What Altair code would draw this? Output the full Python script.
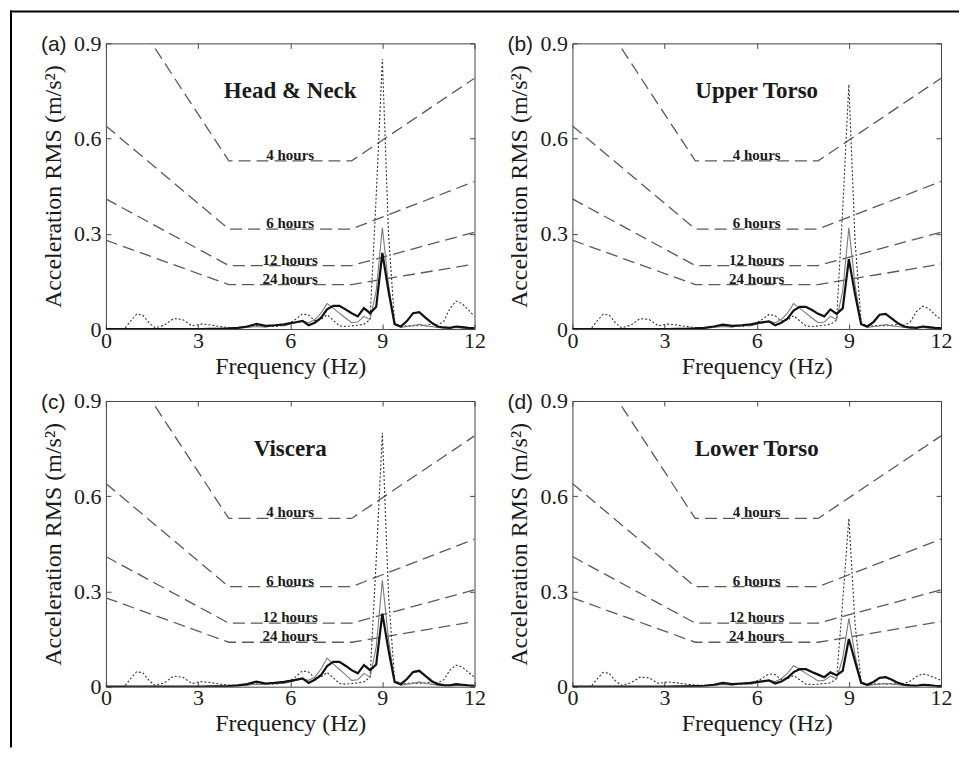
import altair as alt
import pandas as pd

# ---------------- data ----------------
FREQ = [0.0, 0.6, 0.8, 1.0, 1.2, 1.4, 1.6, 1.9, 2.2, 2.5,
        2.8, 3.1, 3.4, 3.7, 4.0, 4.3, 4.6, 4.9, 5.2, 5.5,
        5.8, 6.1, 6.4, 6.6, 6.8, 7.0, 7.2, 7.4, 7.6, 7.8,
        8.0, 8.2, 8.4, 8.6, 8.8, 9.0, 9.2, 9.4, 9.6, 9.8,
        10.0, 10.2, 10.4, 10.6, 10.8, 11.0, 11.2, 11.4, 11.6, 11.8, 12.0]

PANEL_LABELS = ["(a)", "(b)", "(c)", "(d)"]
REGIONS = ["Head & Neck", "Upper Torso", "Viscera", "Lower Torso"]

# (a) Head & Neck
A_DOTTED = [0.000, 0.000, 0.025, 0.047, 0.044, 0.020, 0.004, 0.012, 0.033, 0.030,
            0.010, 0.016, 0.013, 0.008, 0.005, 0.004, 0.007, 0.012, 0.010, 0.008,
            0.012, 0.025, 0.048, 0.044, 0.026, 0.030, 0.045, 0.028, 0.010, 0.008,
            0.010, 0.012, 0.015, 0.030, 0.420, 0.850, 0.300, 0.020, 0.008, 0.010,
            0.012, 0.010, 0.012, 0.015, 0.012, 0.025, 0.065, 0.088, 0.080, 0.060, 0.040]
A_THIN = [0.000, 0.000, 0.000, 0.000, 0.000, 0.000, 0.000, 0.000, 0.000, 0.000,
          0.000, 0.000, 0.000, 0.001, 0.002, 0.003, 0.005, 0.008, 0.006, 0.012,
          0.010, 0.018, 0.025, 0.020, 0.030, 0.050, 0.080, 0.066, 0.050, 0.035,
          0.020, 0.022, 0.040, 0.030, 0.120, 0.320, 0.140, 0.015, 0.005, 0.008,
          0.010, 0.015, 0.010, 0.008, 0.005, 0.003, 0.004, 0.005, 0.003, 0.003, 0.002]
A_THICK = [0.000, 0.000, 0.000, 0.000, 0.000, 0.000, 0.000, 0.000, 0.000, 0.000,
           0.000, 0.000, 0.001, 0.001, 0.002, 0.004, 0.008, 0.016, 0.010, 0.012,
           0.015, 0.020, 0.026, 0.012, 0.020, 0.035, 0.062, 0.073, 0.073, 0.062,
           0.050, 0.040, 0.066, 0.050, 0.070, 0.240, 0.120, 0.015, 0.008, 0.025,
           0.050, 0.053, 0.036, 0.020, 0.008, 0.005, 0.004, 0.008, 0.006, 0.004, 0.003]

# (b) Upper Torso
B_DOTTED = [0.000, 0.000, 0.025, 0.047, 0.044, 0.020, 0.004, 0.012, 0.033, 0.030,
            0.010, 0.016, 0.013, 0.008, 0.005, 0.004, 0.007, 0.012, 0.010, 0.008,
            0.012, 0.025, 0.046, 0.042, 0.025, 0.028, 0.042, 0.026, 0.010, 0.008,
            0.010, 0.012, 0.015, 0.028, 0.380, 0.770, 0.280, 0.020, 0.008, 0.010,
            0.012, 0.010, 0.012, 0.015, 0.012, 0.022, 0.055, 0.072, 0.065, 0.045, 0.030]
B_THIN = [0.000, 0.000, 0.000, 0.000, 0.000, 0.000, 0.000, 0.000, 0.000, 0.000,
          0.000, 0.000, 0.000, 0.001, 0.002, 0.003, 0.005, 0.008, 0.006, 0.012,
          0.010, 0.018, 0.024, 0.020, 0.030, 0.050, 0.080, 0.066, 0.050, 0.035,
          0.020, 0.022, 0.040, 0.030, 0.120, 0.320, 0.140, 0.015, 0.005, 0.008,
          0.010, 0.014, 0.010, 0.008, 0.005, 0.003, 0.004, 0.005, 0.003, 0.003, 0.002]
B_THICK = [0.000, 0.000, 0.000, 0.000, 0.000, 0.000, 0.000, 0.000, 0.000, 0.000,
           0.000, 0.000, 0.001, 0.001, 0.002, 0.004, 0.008, 0.014, 0.010, 0.012,
           0.015, 0.020, 0.024, 0.012, 0.020, 0.033, 0.058, 0.070, 0.070, 0.060,
           0.048, 0.040, 0.062, 0.048, 0.065, 0.220, 0.110, 0.015, 0.008, 0.022,
           0.045, 0.048, 0.033, 0.018, 0.008, 0.005, 0.004, 0.008, 0.006, 0.004, 0.003]

# (c) Viscera
C_DOTTED = [0.000, 0.000, 0.025, 0.047, 0.044, 0.020, 0.004, 0.012, 0.033, 0.030,
            0.010, 0.016, 0.013, 0.008, 0.005, 0.004, 0.007, 0.012, 0.010, 0.008,
            0.012, 0.025, 0.050, 0.046, 0.027, 0.030, 0.045, 0.028, 0.010, 0.008,
            0.010, 0.012, 0.015, 0.030, 0.400, 0.800, 0.290, 0.020, 0.008, 0.010,
            0.012, 0.010, 0.012, 0.015, 0.012, 0.022, 0.052, 0.068, 0.062, 0.045, 0.030]
C_THIN = [0.000, 0.000, 0.000, 0.000, 0.000, 0.000, 0.000, 0.000, 0.000, 0.000,
          0.000, 0.000, 0.000, 0.001, 0.002, 0.003, 0.005, 0.008, 0.006, 0.012,
          0.010, 0.018, 0.025, 0.020, 0.030, 0.055, 0.090, 0.072, 0.055, 0.038,
          0.020, 0.022, 0.042, 0.030, 0.125, 0.335, 0.150, 0.015, 0.005, 0.008,
          0.010, 0.015, 0.010, 0.008, 0.005, 0.003, 0.004, 0.005, 0.003, 0.003, 0.002]
C_THICK = [0.000, 0.000, 0.000, 0.000, 0.000, 0.000, 0.000, 0.000, 0.000, 0.000,
           0.000, 0.000, 0.001, 0.001, 0.002, 0.004, 0.008, 0.016, 0.010, 0.012,
           0.015, 0.020, 0.026, 0.012, 0.022, 0.036, 0.065, 0.078, 0.078, 0.066,
           0.052, 0.042, 0.068, 0.052, 0.070, 0.230, 0.115, 0.015, 0.008, 0.024,
           0.046, 0.050, 0.034, 0.018, 0.008, 0.005, 0.004, 0.008, 0.006, 0.004, 0.003]

# (d) Lower Torso
D_DOTTED = [0.000, 0.000, 0.024, 0.045, 0.042, 0.018, 0.004, 0.012, 0.030, 0.028,
            0.010, 0.015, 0.012, 0.008, 0.005, 0.004, 0.006, 0.010, 0.009, 0.007,
            0.010, 0.022, 0.040, 0.038, 0.022, 0.025, 0.035, 0.022, 0.008, 0.007,
            0.008, 0.010, 0.012, 0.025, 0.270, 0.530, 0.200, 0.015, 0.006, 0.008,
            0.010, 0.008, 0.010, 0.012, 0.010, 0.018, 0.032, 0.040, 0.036, 0.028, 0.020]
D_THIN = [0.000, 0.000, 0.000, 0.000, 0.000, 0.000, 0.000, 0.000, 0.000, 0.000,
          0.000, 0.000, 0.000, 0.001, 0.002, 0.003, 0.004, 0.007, 0.005, 0.010,
          0.008, 0.015, 0.020, 0.016, 0.025, 0.042, 0.066, 0.055, 0.042, 0.030,
          0.018, 0.020, 0.034, 0.025, 0.090, 0.215, 0.100, 0.012, 0.004, 0.006,
          0.008, 0.010, 0.008, 0.006, 0.004, 0.003, 0.003, 0.004, 0.003, 0.002, 0.002]
D_THICK = [0.000, 0.000, 0.000, 0.000, 0.000, 0.000, 0.000, 0.000, 0.000, 0.000,
           0.000, 0.000, 0.001, 0.001, 0.002, 0.003, 0.006, 0.012, 0.008, 0.010,
           0.012, 0.016, 0.020, 0.010, 0.016, 0.028, 0.046, 0.055, 0.055, 0.046,
           0.038, 0.030, 0.045, 0.036, 0.050, 0.150, 0.080, 0.012, 0.006, 0.015,
           0.028, 0.030, 0.022, 0.012, 0.006, 0.004, 0.003, 0.006, 0.005, 0.003, 0.002]

# exposure-limit boundaries (dashed)
LIMIT_FREQ = [0, 4, 8, 12]
LIMIT_NAMES = ["4 hours", "6 hours", "12 hours", "24 hours"]
LIMIT_4H = [1.12, 0.53, 0.53, 0.79]
LIMIT_6H = [0.64, 0.315, 0.315, 0.465]
LIMIT_12H = [0.41, 0.20, 0.20, 0.305]
LIMIT_24H = [0.28, 0.14, 0.14, 0.205]

X_TICKS = [0, 3, 6, 9, 12]
Y_TICKS = [0, 0.3, 0.6, 0.9]

# ---------------- styling ----------------
SERIF = "'Liberation Serif', 'Times New Roman', serif"
SANS = "'Liberation Sans', Arial, sans-serif"
TXT = "#1a1a1a"
FRAME = "#444444"
W, H = 369, 286
LABEL_SIZE = 22
TITLE_SIZE = 24

x_scale = alt.Scale(domain=[0, 12], nice=False, zero=False)
y_scale = alt.Scale(domain=[0, 0.9], nice=False, zero=False)

x_bottom = alt.Axis(orient="bottom", values=X_TICKS, format="d", title="Frequency (Hz)",
                    domain=False, grid=False, ticks=True, tickSize=5, offset=-5,
                    tickColor=FRAME, tickWidth=1, labelFont=SERIF, labelFontSize=LABEL_SIZE,
                    labelColor=TXT, labelPadding=1, labelFlush=False, labelOverlap=False,
                    titleFont=SERIF, titleFontSize=TITLE_SIZE, titleFontWeight="normal",
                    titleColor=TXT, titlePadding=3)
y_left = alt.Axis(orient="left", values=Y_TICKS,
                  labelExpr="datum.value == 0 ? '0' : format(datum.value, '.1f')",
                  title="Acceleration RMS (m/s²)", domain=False, grid=False, ticks=True,
                  tickSize=5, offset=-5, tickColor=FRAME, tickWidth=1, labelFont=SERIF,
                  labelFontSize=LABEL_SIZE, labelColor=TXT, labelPadding=5, labelFlush=False,
                  labelOverlap=False, titleFont=SERIF, titleFontSize=TITLE_SIZE,
                  titleFontWeight="normal", titleColor=TXT, titlePadding=8)
x_top = alt.Axis(orient="top", values=X_TICKS, labels=False, title=None, domain=False,
                 grid=False, ticks=True, tickSize=5, offset=-5, tickColor=FRAME, tickWidth=1)
y_right = alt.Axis(orient="right", values=Y_TICKS, labels=False, title=None, domain=False,
                   grid=False, ticks=True, tickSize=5, offset=-5, tickColor=FRAME, tickWidth=1)


def make_panel(label, region, dotted, thin, thick, border=False):
    rows = []
    for name, vals in (("dotted", dotted), ("thin", thin), ("thick", thick)):
        assert len(vals) == len(FREQ)
        for f, v in zip(FREQ, vals):
            rows.append({"freq": f, "value": v, "series": name})
    sdf = pd.DataFrame(rows)

    lrows, labrows = [], []
    for name, vals in zip(LIMIT_NAMES, [LIMIT_4H, LIMIT_6H, LIMIT_12H, LIMIT_24H]):
        for f, v in zip(LIMIT_FREQ, vals):
            lrows.append({"freq": f, "value": v, "limit": name})
        labrows.append({"freq": (LIMIT_FREQ[1] + LIMIT_FREQ[2]) / 2, "value": vals[1], "limit": name})
    ldf = pd.DataFrame(lrows)
    labdf = pd.DataFrame(labrows)

    limits = alt.Chart(ldf).mark_line(color="#5a5a5a", strokeWidth=1.3, strokeDash=[12, 6],
                                      clip=True).encode(
        x=alt.X("freq:Q", scale=x_scale, axis=x_bottom),
        y=alt.Y("value:Q", scale=y_scale, axis=y_left),
        detail="limit:N",
    )

    def series(name, color, width, dash=None, axes=False):
        kw = dict(color=color, strokeWidth=width, clip=True)
        if dash is not None:
            kw["strokeDash"] = dash
        return alt.Chart(sdf).transform_filter(alt.datum.series == name).mark_line(**kw).encode(
            x=alt.X("freq:Q", scale=x_scale, axis=x_top if axes else None),
            y=alt.Y("value:Q", scale=y_scale, axis=y_right if axes else None),
        )

    dotted_l = series("dotted", "#333333", 1.1, [2, 2])
    thin_l = series("thin", "#7a7a7a", 1.1)
    thick_l = series("thick", "#111111", 2.2, axes=True)

    lim_text = alt.Chart(labdf).mark_text(font=SERIF, fontSize=15, fontWeight="bold",
                                          baseline="alphabetic", dy=-1, color=TXT).encode(
        x=alt.X("freq:Q", scale=x_scale, axis=None),
        y=alt.Y("value:Q", scale=y_scale, axis=None),
        text="limit:N",
    )

    reg_df = pd.DataFrame({"freq": [6.0], "value": [0.75], "region": [region]})
    reg_text = alt.Chart(reg_df).mark_text(font=SERIF, fontSize=23, fontWeight="bold",
                                           baseline="middle", color=TXT).encode(
        x=alt.X("freq:Q", scale=x_scale, axis=None),
        y=alt.Y("value:Q", scale=y_scale, axis=None),
        text="region:N",
    )

    tag_df = pd.DataFrame({"tag": [label]})
    tag = alt.Chart(tag_df).mark_text(font=SANS, fontSize=21, align="left",
                                      baseline="middle", color=TXT).encode(
        x=alt.value(-65), y=alt.value(2), text="tag:N")

    layers = [limits, dotted_l, thin_l, thick_l, lim_text, reg_text, tag]

    if border:
        one = pd.DataFrame({"k": [0]})
        left_edge = alt.Chart(one).mark_rule(color="black", strokeWidth=2).encode(
            x=alt.value(-95), y=alt.value(-33), y2=alt.value(705))
        top_edge = alt.Chart(one).mark_rule(color="black", strokeWidth=2).encode(
            x=alt.value(-96), x2=alt.value(854), y=alt.value(-32))
        layers += [left_edge, top_edge]

    return alt.layer(*layers).properties(width=W, height=H)


pa = make_panel(PANEL_LABELS[0], REGIONS[0], A_DOTTED, A_THIN, A_THICK, border=True)
pb = make_panel(PANEL_LABELS[1], REGIONS[1], B_DOTTED, B_THIN, B_THICK)
pc = make_panel(PANEL_LABELS[2], REGIONS[2], C_DOTTED, C_THIN, C_THICK)
pd_ = make_panel(PANEL_LABELS[3], REGIONS[3], D_DOTTED, D_THIN, D_THICK)

chart = alt.concat(pa, pb, pc, pd_, columns=2, spacing={"row": 72, "column": 98},
                   bounds="flush").properties(padding=0).configure_view(
    stroke=FRAME, strokeWidth=1).configure_axis(
    labelFont=SERIF, titleFont=SERIF, labelFontSize=LABEL_SIZE, titleFontSize=TITLE_SIZE,
    titleFontWeight="normal")

chart.save("out.html", embed_options={"renderer": "svg", "actions": False})
